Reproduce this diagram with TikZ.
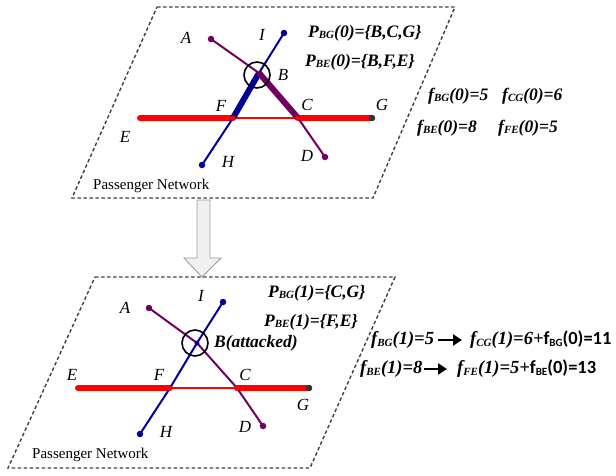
\documentclass[tikz,border=0pt]{standalone}
\usepackage{fontspec}
\setmainfont{Liberation Serif}
\newfontfamily\califont{Carlito}
\usetikzlibrary{arrows.meta}
\definecolor{netred}{RGB}{255,0,0}
\definecolor{netblue}{RGB}{0,0,150}
\definecolor{netpurple}{RGB}{112,0,96}
\newcommand\sbx[1]{\raisebox{-1.5pt}{\fontsize{11}{11}\selectfont #1}}
\begin{document}
\begin{tikzpicture}[x=1pt,y=-1pt,
  plane/.style={draw=black!75, line width=1.4pt, dash pattern=on 3.5pt off 2.5pt},
  dot/.style={circle, fill=#1, inner sep=0pt, minimum size=6.5pt},
  sdot/.style={circle, fill=#1, inner sep=0pt, minimum size=5pt},
  lbl/.style={font=\fontsize{17}{17}\selectfont\itshape, inner sep=0pt},
  frm/.style={font=\fontsize{17.5}{17.5}\selectfont\bfseries\itshape, inner sep=0pt, anchor=west},
  frmb/.style={font=\fontsize{18.5}{18.5}\selectfont\bfseries\itshape, inner sep=0pt, anchor=west},
  pnet/.style={font=\fontsize{15}{15}\selectfont, inner sep=0pt, anchor=west},
  thinred/.style={netred, line width=1.5pt},
  thickred/.style={netred, line width=6pt, line cap=round},
  thinblue/.style={netblue, line width=2pt},
  thickblue/.style={netblue, line width=6pt},
  thinpurple/.style={netpurple, line width=2pt},
  thickpurple/.style={netpurple, line width=6pt},
  ring/.style={draw=black, line width=1.6pt, circle, minimum size=26pt, inner sep=0pt},
  txtarrow/.style={-{Triangle[length=9pt,width=11pt]}, line width=2.4pt}
]
\useasboundingbox (0,0) rectangle (616,475);

% planes
\draw[plane] (157,7) -- (455,7) -- (373,198) -- (72,198) -- cycle;
\draw[plane] (95,277) -- (395,277) -- (310,468) -- (8,468) -- cycle;

% transition arrow
\draw[draw=black!40, fill=black!6, line width=0.8pt]
  (197,200) -- (210,200) -- (210,258) -- (221,258) -- (202,277) -- (184,258) -- (197,258) -- cycle;

% ---------- top network ----------
\coordinate (tA) at (211,39);
\coordinate (tI) at (284,33);
\coordinate (tB) at (259,73);
\coordinate (tF) at (233,118);
\coordinate (tC) at (298,118);
\coordinate (tE) at (140,118);
\coordinate (tG) at (372,118);
\coordinate (tH) at (202,165);
\coordinate (tD) at (325,157);

\draw[thickred] (tE) -- (tF);
\draw[thickred] (tC) -- (tG);
\draw[thinred] (tF) -- (tC);
\draw[thinblue] (tH) -- (tF);
\draw[thickblue] (tF) -- (tB);
\draw[thinblue] (tB) -- (tI);
\draw[thinpurple] (tA) -- (tB);
\draw[thickpurple] (tB) -- (tC);
\draw[thinpurple] (tC) -- (tD);

\node[dot=netpurple] (tAd) at (tA) {};
\node[dot=netpurple] (tDd) at (tD) {};
\node[dot=netblue] (tId) at (tI) {};
\node[dot=netblue] (tHd) at (tH) {};
\node[dot=black!80] (tGd) at (tG) {};
\node[sdot=netred] (tFd) at (tF) {};
\node[sdot=netred] (tCd) at (tC) {};
\node[ring] (tring) at (257,75) {};

\node[lbl] (tAl) at (186,38) {A};
\node[lbl] (tIl) at (262,35) {I};
\node[lbl] (tBl) at (283,75) {B};
\node[lbl] (tFl) at (221,106) {F};
\node[lbl] (tCl) at (307,105) {C};
\node[lbl] (tEl) at (125,137) {E};
\node[lbl] (tGl) at (382,105) {G};
\node[lbl] (tHl) at (228,162) {H};
\node[lbl] (tDl) at (307,156) {D};
\node[pnet] (tpn) at (93,186) {Passenger Network};

\node[frm] (tP1) at (308,33) {P\sbx{BG}(0)=\{B,C,G\}};
\node[frm] (tP2) at (305,62) {P\sbx{BE}(0)=\{B,F,E\}};
\node[frm] (tf1) at (428,96) {f\sbx{BG}(0)=5};
\node[frm] (tf2) at (502,96) {f\sbx{CG}(0)=6};
\node[frm] (tf3) at (417,128) {f\sbx{BE}(0)=8};
\node[frm] (tf4) at (498,128) {f\sbx{FE}(0)=5};

% ---------- bottom network ----------
\coordinate (bA) at (149,308);
\coordinate (bI) at (223,302);
\coordinate (bB) at (197,343);
\coordinate (bF) at (170,388);
\coordinate (bC) at (237,388);
\coordinate (bE) at (78,388);
\coordinate (bG) at (309,388);
\coordinate (bH) at (140,434);
\coordinate (bD) at (263,426);

\draw[thickred] (bE) -- (bF);
\draw[thickred] (bC) -- (bG);
\draw[thinred] (bF) -- (bC);
\draw[thinblue] (bH) -- (bF) -- (bB) -- (bI);
\draw[thinpurple] (bA) -- (bB) -- (bC) -- (bD);

\node[dot=netpurple] (bAd) at (bA) {};
\node[dot=netpurple] (bDd) at (bD) {};
\node[dot=netblue] (bId) at (bI) {};
\node[dot=netblue] (bHd) at (bH) {};
\node[dot=black!80] (bGd) at (bG) {};
\node[sdot=netred] (bFd) at (bF) {};
\node[sdot=netred] (bCd) at (bC) {};
\node[sdot=netblue] (bBd) at (bB) {};
\node[ring] (bring) at (195,343) {};

\node[lbl] (bAl) at (125,308) {A};
\node[lbl] (bIl) at (201,296) {I};
\node[frm] (bBl) at (214,343) {B(attacked)};
\node[lbl] (bFl) at (159,375) {F};
\node[lbl] (bCl) at (245,375) {C};
\node[lbl] (bEl) at (72,375) {E};
\node[lbl] (bGl) at (303,405) {G};
\node[lbl] (bHl) at (166,432) {H};
\node[lbl] (bDl) at (245,427) {D};
\node[pnet] (bpn) at (32,455) {Passenger Network};

\node[frm] (bP1) at (268,293) {P\sbx{BG}(1)=\{C,G\}};
\node[frm] (bP2) at (264,322) {P\sbx{BE}(1)=\{F,E\}};
\node[frmb] (bf1) at (371,340) {f\sbx{BG}(1)=5};
\node[frmb] (bf2) at (470,340) {f\sbx{CG}(1)=6+{\califont\upshape f\sbx{BG}(0)=11}};
\node[frmb] (bf3) at (360,369) {f\sbx{BE}(1)=8};
\node[frmb] (bf4) at (457,369) {f\sbx{FE}(1)=5+{\califont\upshape f\sbx{BE}(0)=13}};
\draw[txtarrow] ([xshift=4pt]bf1.east) -- ([xshift=-8pt]bf2.west);
\draw[txtarrow] ([xshift=1pt]bf3.east) -- ([xshift=-10pt]bf4.west);
\end{tikzpicture}
\end{document}
